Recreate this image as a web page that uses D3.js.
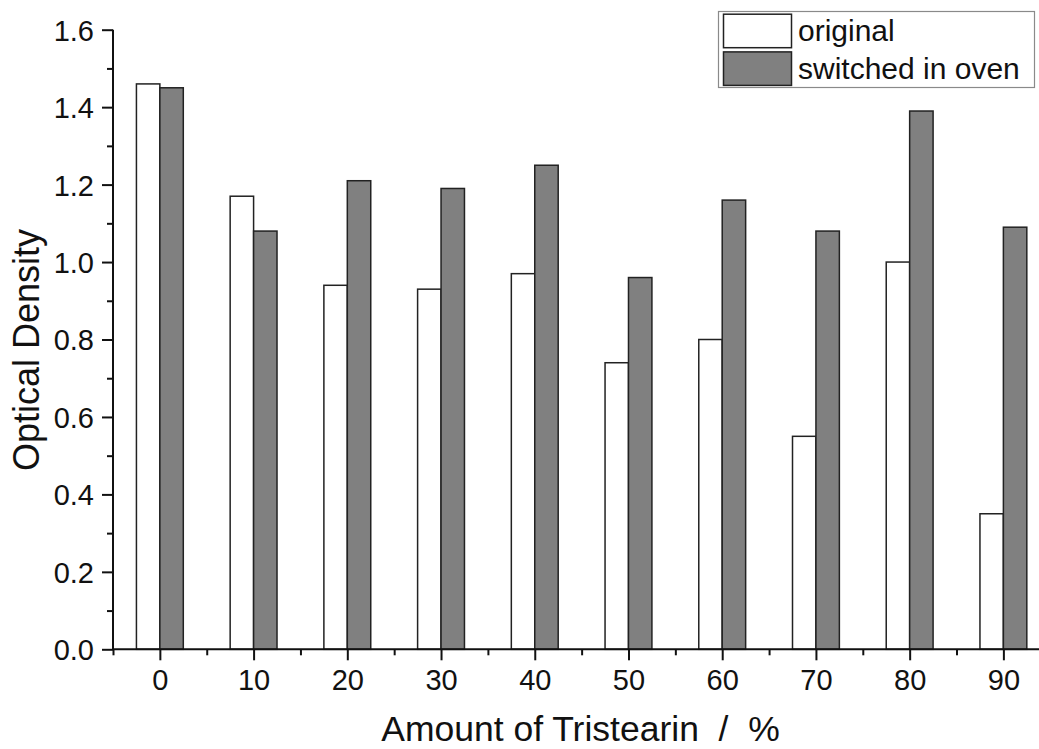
<!DOCTYPE html>
<html>
<head>
<meta charset="utf-8">
<script src="https://cdn.jsdelivr.net/npm/d3@7"></script>
<style>
  html, body { margin: 0; padding: 0; background: #fff; }
  svg { display: block; font-family: Arial, "Liberation Sans", sans-serif; }
</style>
</head>
<body>
<svg id="chart" width="1039" height="749"></svg>
<script>
// Tristearin content (%) of each sample
const categories = [0, 10, 20, 30, 40, 50, 60, 70, 80, 90];
// Optical density before and after switching in the oven
const original = [1.46, 1.17, 0.94, 0.93, 0.97, 0.74, 0.80, 0.55, 1.00, 0.35];
const switchedInOven = [1.45, 1.08, 1.21, 1.19, 1.25, 0.96, 1.16, 1.08, 1.39, 1.09];
const seriesNames = ["original", "switched in oven"];
const yTickValues = [0, 0.2, 0.4, 0.6, 0.8, 1.0, 1.2, 1.4, 1.6];
const yMinorValues = [0.1, 0.3, 0.5, 0.7, 0.9, 1.1, 1.3, 1.5];
const xMinorValues = [-5, 5, 15, 25, 35, 45, 55, 65, 75, 85];

const svg = d3.select("#chart");
const plotLeft = 113, plotRight = 1039, plotTop = 29.7, plotBottom = 649.3;
const barHalf = 2.5;      // bar width in data units
const ink = "#111";

const x = d3.scaleLinear().domain([-5, 93.8]).range([plotLeft, plotRight]);
const y = d3.scaleLinear().domain([0, 1.6]).range([plotBottom, plotTop]);

const series = [
  { name: seriesNames[0], values: original, fill: "#ffffff", offset: -barHalf },
  { name: seriesNames[1], values: switchedInOven, fill: "#808080", offset: 0 }
];

// bars
series.forEach(s => {
  svg.append("g").selectAll("rect")
    .data(categories.map((c, i) => ({ c, v: s.values[i] })))
    .join("rect")
    .attr("x", d => x(d.c + s.offset))
    .attr("width", d => x(d.c + s.offset + barHalf) - x(d.c + s.offset))
    .attr("y", d => y(d.v))
    .attr("height", d => y(0) - y(d.v))
    .attr("fill", s.fill)
    .attr("stroke", "#222")
    .attr("stroke-width", 1.5);
});

// y axis
const yAxis = svg.append("g").attr("transform", `translate(${plotLeft},0)`)
  .call(d3.axisLeft(y).tickValues(yTickValues).tickFormat(d3.format(".1f")).tickSize(11).tickPadding(8));
const yMinor = svg.append("g").attr("transform", `translate(${plotLeft},0)`)
  .call(d3.axisLeft(y).tickValues(yMinorValues).tickFormat("").tickSize(6));

// x axis
const xAxis = svg.append("g").attr("transform", `translate(0,${plotBottom})`)
  .call(d3.axisBottom(x).tickValues(categories).tickFormat(d3.format("d")).tickSize(11).tickPadding(9));
const xMinor = svg.append("g").attr("transform", `translate(0,${plotBottom})`)
  .call(d3.axisBottom(x).tickValues(xMinorValues).tickFormat("").tickSize(6));

[yAxis, yMinor, xAxis, xMinor].forEach(g => {
  g.select(".domain").attr("stroke", ink).attr("stroke-width", 2);
  g.selectAll(".tick line").attr("stroke", ink).attr("stroke-width", 2);
  g.selectAll(".tick text").attr("fill", ink).style("font-size", "29px");
});
yAxis.select(".domain").attr("d", `M0,${plotBottom}V${plotTop}`);
yMinor.select(".domain").remove();
xMinor.select(".domain").remove();
xAxis.select(".domain").attr("d", `M${plotLeft},0H${plotRight}`);
yAxis.selectAll(".tick text").attr("dy", "0.36em");

// axis titles
svg.append("text")
  .attr("x", 580.5).attr("y", 740.5)
  .attr("text-anchor", "middle")
  .attr("fill", ink)
  .style("font-size", "35.5px")
  .style("white-space", "pre")
  .text("Amount of Tristearin  /  %");

svg.append("text")
  .attr("transform", "translate(39,350) rotate(-90)")
  .attr("text-anchor", "middle")
  .attr("fill", ink)
  .style("font-size", "36px")
  .text("Optical Density");

// legend
const legend = svg.append("g");
legend.append("rect")
  .attr("x", 718.5).attr("y", 11.5).attr("width", 316).attr("height", 76)
  .attr("fill", "#fff").attr("stroke", "#8a8a8a").attr("stroke-width", 1.2);
series.forEach((s, i) => {
  const row = legend.append("g").attr("transform", `translate(0,${i * 37.7})`);
  row.append("rect")
    .attr("x", 723.5).attr("y", 14.2).attr("width", 68).attr("height", 33.5)
    .attr("fill", s.fill).attr("stroke", "#222").attr("stroke-width", 1.5);
  row.append("text")
    .attr("x", 798).attr("y", 41)
    .attr("fill", ink)
    .style("font-size", "30px")
    .text(s.name);
});
</script>
</body>
</html>
